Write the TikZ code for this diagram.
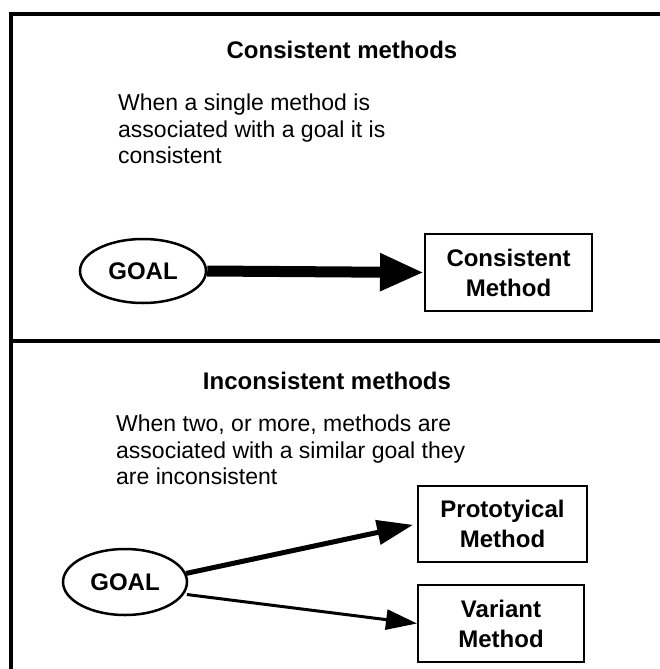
\documentclass[tikz,border=0pt]{standalone}
\usepackage{fontspec}
\setmainfont{Liberation Sans}
\usetikzlibrary{arrows.meta,shapes.geometric}

\tikzset{
  frameline/.style={line width=4pt, line cap=rect},
  heading/.style={font=\fontsize{24}{28}\selectfont\bfseries, inner sep=0pt},
  bodytext/.style={font=\fontsize{23}{26.5}\selectfont, align=left, anchor=north west, inner sep=0pt},
  goalnode/.style={ellipse, draw, line width=2.5pt, font=\fontsize{24}{28}\selectfont\bfseries, inner sep=0pt},
  methodbox/.style={rectangle, draw, line width=2pt, align=center, font=\fontsize{24}{30}\selectfont\bfseries, inner sep=0pt},
}

\begin{document}
\begin{tikzpicture}[x=1pt, y=-1pt]
  \useasboundingbox (0,0) rectangle (660,669);
  \fill[white] (0,0) rectangle (660,669);

  % panel frame
  \coordinate (tl) at (11,14);
  \coordinate (tr) at (662,14);
  \coordinate (bl) at (11,671);
  \coordinate (ml) at (11,341);
  \coordinate (mr) at (662,341);
  \draw[frameline] (bl) -- (tl) -- (tr);
  \draw[frameline] (ml) -- (mr);

  % upper panel: consistent methods
  \node[heading] (t1) at (342,50) {Consistent methods};
  \node[bodytext] (d1) at (118,94) {When a single method is\\associated with a goal it is\\consistent};
  \node[goalnode, minimum width=126pt, minimum height=64pt] (g1) at (143,271) {GOAL};
  \node[methodbox, minimum width=167pt, minimum height=77pt] (m1) at (508.5,272.5) {Consistent\\Method};
  \draw[line width=11pt, -{Triangle[length=44pt, width=35pt]}] (g1.east) -- (m1.west);

  % lower panel: inconsistent methods
  \node[heading] (t2) at (327,381) {Inconsistent methods};
  \node[bodytext] (d2) at (116,415) {When two, or more, methods are\\associated with a similar goal they\\are inconsistent};
  \node[goalnode, minimum width=124pt, minimum height=66pt] (g2) at (125,582) {GOAL};
  \node[methodbox, minimum width=169pt, minimum height=76pt] (mp) at (502.5,524) {Prototyical\\Method};
  \node[methodbox, minimum width=166pt, minimum height=77pt] (mv) at (501,623.5) {Variant\\Method};
  \draw[line width=5pt, shorten >=4pt, -{Triangle[length=36pt, width=24pt]}] (g2.8) -- (mp.west);
  \draw[line width=3pt, -{Triangle[length=31pt, width=20pt]}] ([xshift=3pt]g2.-12) -- (mv.west);
\end{tikzpicture}
\end{document}
